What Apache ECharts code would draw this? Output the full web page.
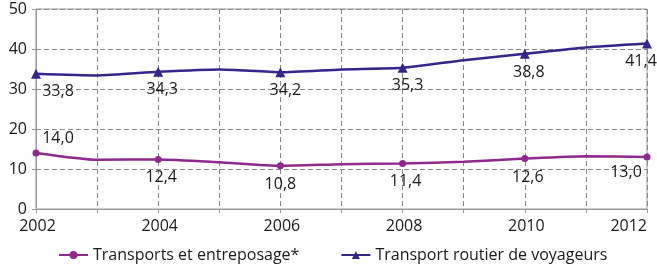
<!DOCTYPE html>
<html>
<head>
<meta charset="utf-8">
<script src="https://cdn.jsdelivr.net/npm/echarts@6/dist/echarts.min.js"></script>
<style>
  html, body { margin: 0; padding: 0; background: #fff; }
  #chart { width: 657px; height: 268px; }
</style>
</head>
<body>
<div id="chart"></div>
<script>
const years = ['2002', '2003', '2004', '2005', '2006', '2007', '2008', '2009', '2010', '2011', '2012']
const transportsEntreposage = [14.0, 12.3, 12.4, 11.7, 10.8, 11.2, 11.4, 11.8, 12.6, 13.2, 13.0]
const transportRoutier = [33.8, 33.4, 34.3, 34.9, 34.2, 34.9, 35.3, 37.2, 38.8, 40.4, 41.4]
const yTicks = [0, 10, 20, 30, 40, 50]

// label placement for the even years (index -> [position, dx, dy])
const purpleLabelPos = {
  0: ['top', 22, 2],
  2: ['bottom', 3, 2],
  4: ['bottom', 0, 2],
  6: ['bottom', 3, 2],
  8: ['bottom', 3, 2],
  10: ['bottom', -21, -1],
}
const blueLabelPos = {
  0: ['bottom', 22, 0],
  2: ['bottom', 4, 0],
  4: ['bottom', 5, 0],
  6: ['bottom', 5, 0],
  8: ['bottom', 4, 1],
  10: ['bottom', -6, 0],
}

const fmt = v => v.toFixed(1).replace('.', ',')

// only even years carry a marker and a value label
function buildData(values, placement) {
  return values.map((v, i) => {
    const p = placement[i]
    if (!p) return { value: v, symbol: 'none' }
    return {
      value: v,
      label: {
        show: true,
        position: p[0],
        offset: [p[1], p[2]],
        formatter: fmt(v),
      },
    }
  })
}

const chart = echarts.init(document.getElementById('chart'))
const textFont = { fontFamily: 'Open Sans', fontSize: 16, color: '#1a1a1a' }

chart.setOption({
  animation: false,
  grid: {
    left: 36, right: 10, top: 9, bottom: 59,
    outerBoundsMode: 'none',
    show: true, borderColor: '#999', borderWidth: 1,
  },
  legend: {
    bottom: 0,
    left: 53,
    itemGap: 41,
    itemWidth: 29,
    itemHeight: 10,
    textStyle: { ...textFont },
    data: ['Transports et entreposage*', 'Transport routier de voyageurs'],
  },
  xAxis: {
    type: 'category',
    boundaryGap: false,
    data: years,
    axisLine: { lineStyle: { color: '#999' } },
    axisTick: { show: true, length: 4, interval: 0, lineStyle: { color: '#999' } },
    axisLabel: { ...textFont, interval: 1, margin: 9, alignMaxLabel: 'right', padding: [0, 0, 0, 3] },
    splitLine: { show: true, interval: 0, lineStyle: { color: '#888', type: [5, 3] } },
  },
  yAxis: {
    type: 'value',
    min: yTicks[0],
    max: yTicks[yTicks.length - 1],
    interval: 10,
    axisLine: { show: true, lineStyle: { color: '#999' } },
    axisTick: { show: true, length: 4, lineStyle: { color: '#999' } },
    axisLabel: { ...textFont, margin: 9 },
    splitLine: { show: true, lineStyle: { color: '#888', type: [5, 3] } },
  },
  series: [
    {
      name: 'Transports et entreposage*',
      type: 'line',
      smooth: 0.2,
      data: buildData(transportsEntreposage, purpleLabelPos),
      color: '#8e2a8e',
      lineStyle: { width: 2.5 },
      symbol: 'circle',
      symbolSize: 7,
      showAllSymbol: true,
      label: { show: false, ...textFont },
      itemStyle: { color: '#8e2a8e' },
    },
    {
      name: 'Transport routier de voyageurs',
      type: 'line',
      smooth: 0.2,
      data: buildData(transportRoutier, blueLabelPos),
      color: '#35268c',
      lineStyle: { width: 2.5 },
      symbol: 'triangle',
      symbolSize: 10,
      showAllSymbol: true,
      label: { show: false, ...textFont },
      itemStyle: { color: '#35268c' },
    },
  ],
})
</script>
</body>
</html>
